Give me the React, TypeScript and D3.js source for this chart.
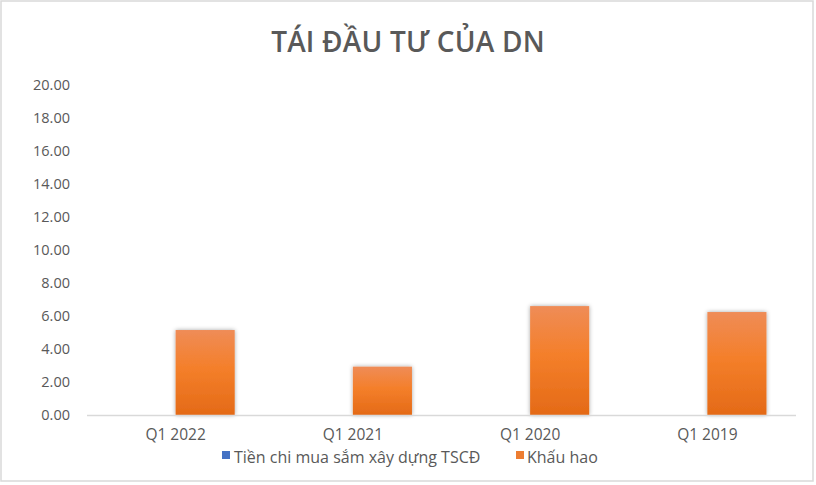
import React from "react";
import * as d3 from "d3";

// Quarterly data (billions VND)
const categories = ["Q1 2022", "Q1 2021", "Q1 2020", "Q1 2019"];
const capexValues = [0, 0, 0, 0];
const depreciationValues = [5.15, 2.93, 6.6, 6.24];
const seriesNames = ["Tiền chi mua sắm xây dựng TSCĐ", "Khấu hao"];
const yTicks = [0, 2, 4, 6, 8, 10, 12, 14, 16, 18, 20];

const W = 816;
const H = 485;
const plot = { left: 87, right: 796, top: 85, bottom: 415 };
const textColor = "#595959";
const font = "'Open Sans', 'Noto Sans', sans-serif";

export default function App() {
  const x = d3
    .scaleBand<string>()
    .domain(categories)
    .range([plot.left, plot.right])
    .paddingInner(1 / 3)
    .paddingOuter(1 / 6);
  const inner = d3
    .scaleBand<string>()
    .domain(seriesNames)
    .range([0, x.bandwidth()]);
  const y = d3.scaleLinear().domain([0, 20]).range([plot.bottom, plot.top]);

  const rows = categories.map((c, i) => ({
    cat: c,
    capex: capexValues[i],
    dep: depreciationValues[i],
  }));

  return (
    <svg
      width={W}
      height={H}
      style={{ position: "fixed", left: 0, top: 0, background: "#fff" }}
    >
      <defs>
        <linearGradient id="orangeGrad" x1="0" y1="0" x2="0" y2="1">
          <stop offset="0%" stopColor="#ef8c57" />
          <stop offset="45%" stopColor="#f47f2a" />
          <stop offset="100%" stopColor="#e46a17" />
        </linearGradient>
        <linearGradient id="blueGrad" x1="0" y1="0" x2="0" y2="1">
          <stop offset="0%" stopColor="#6a93d4" />
          <stop offset="100%" stopColor="#2f5fb3" />
        </linearGradient>
        <filter id="barShadow" x="-20%" y="-10%" width="140%" height="120%">
          <feDropShadow dx="0" dy="0" stdDeviation="2.2" floodColor="#000" floodOpacity="0.35" />
        </filter>
      </defs>

      <rect x={1} y={1} width={812} height={480} fill="#fff" stroke="#d9d9d9" strokeWidth={1.5} />

      <text
        x={W / 2}
        y={52}
        textAnchor="middle"
        fill={textColor}
        fontFamily={font}
        fontWeight={600}
        fontSize={28}
        letterSpacing={0.2}
      >
        TÁI ĐẦU TƯ CỦA DN
      </text>

      {yTicks.map((t) => (
        <text
          key={t}
          x={70}
          y={y(t)}
          dy="0.35em"
          textAnchor="end"
          fill={textColor}
          fontFamily={font}
          fontSize={14.5}
        >
          {t.toFixed(2)}
        </text>
      ))}

      {rows.map((r) => {
        const x0 = x(r.cat)!;
        const depX = x0 + inner(seriesNames[1])!;
        const capX = x0 + inner(seriesNames[0])!;
        return (
          <g key={r.cat}>
            {r.capex > 0 && (
              <rect
                x={capX}
                y={y(r.capex)}
                width={inner.bandwidth()}
                height={y(0) - y(r.capex)}
                fill="url(#blueGrad)"
                filter="url(#barShadow)"
              />
            )}
            <rect
              x={depX}
              y={y(r.dep)}
              width={inner.bandwidth()}
              height={y(0) - y(r.dep)}
              fill="url(#orangeGrad)"
              filter="url(#barShadow)"
            />
          </g>
        );
      })}

      <line
        x1={plot.left}
        x2={plot.right}
        y1={y(0) + 0.5}
        y2={y(0) + 0.5}
        stroke="#d9d9d9"
        strokeWidth={1.5}
      />

      {categories.map((c) => (
        <text
          key={c}
          x={x(c)! + x.bandwidth() / 2}
          y={435}
          dy="0.35em"
          textAnchor="middle"
          fill={textColor}
          fontFamily={font}
          fontSize={15.5}
        >
          {c}
        </text>
      ))}

      <g fontFamily={font} fontSize={16} fill={textColor}>
        <rect x={222} y={451} width={8} height={8} fill="#4472c4" />
        <text x={234} y={457} dy="0.35em">
          {seriesNames[0]}
        </text>
        <rect x={516} y={451} width={8} height={8} fill="#ed7d31" />
        <text x={527} y={457} dy="0.35em">
          {seriesNames[1]}
        </text>
      </g>
    </svg>
  );
}
